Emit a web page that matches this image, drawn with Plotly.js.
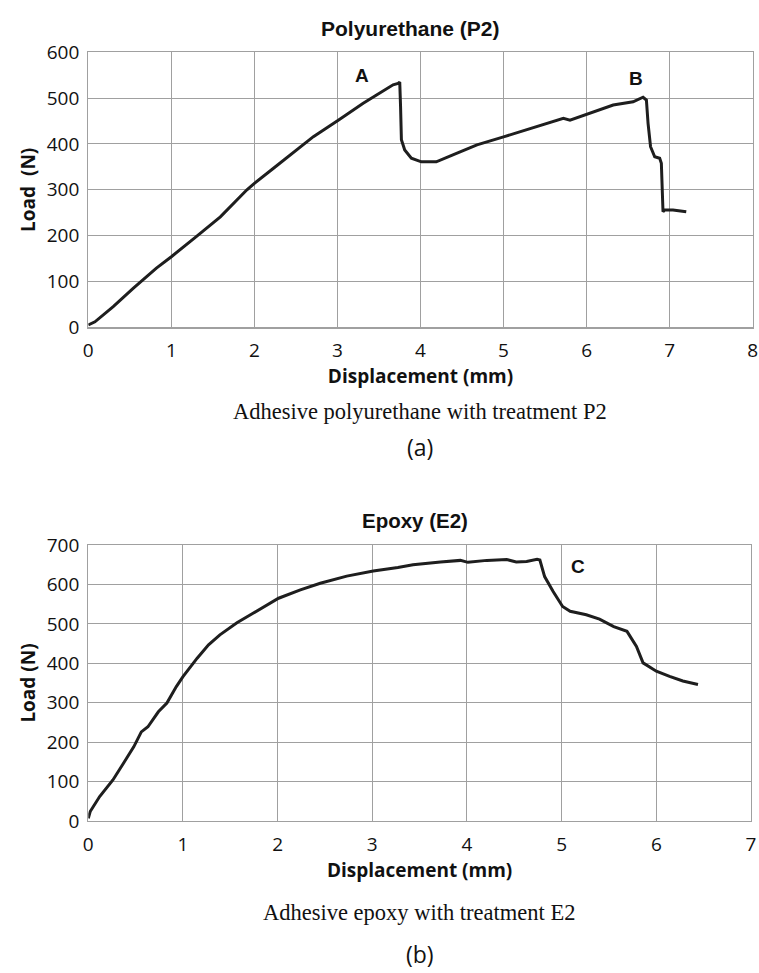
<!DOCTYPE html>
<html>
<head>
<meta charset="utf-8">
<script src="https://cdn.plot.ly/plotly-3.0.1.min.js"></script>
<style>html,body{margin:0;padding:0;background:#fff;}#chart{width:759px;height:973px;}</style>
</head>
<body>
<div id="chart"></div>
<script>
// ---- Data: Polyurethane (P2) ----
const p2Disp = [0, 0.08, 0.3, 0.54, 0.82, 1.0, 1.3, 1.59, 1.91, 2.0, 2.23, 2.51, 2.71, 3.01, 3.31, 3.51, 3.67, 3.73, 3.75,
  3.76, 3.77, 3.81, 3.89, 4.01, 4.19, 4.39, 4.68, 5.01, 5.32, 5.72, 5.80, 6.0, 6.32, 6.56, 6.68,
  6.72, 6.74, 6.77, 6.82, 6.88, 6.90, 6.92, 6.94, 7.04, 7.20];
const p2Load = [5, 12, 45, 85, 129, 154, 198, 241, 300, 314, 347, 387, 416, 452, 489, 511, 529, 532, 535,
  481, 409, 387, 369, 361, 361, 376, 398, 416, 434, 456, 452, 465, 485, 492, 502,
  496, 445, 394, 372, 369, 358, 252, 256, 256, 252];
// ---- Data: Epoxy (E2) ----
const e2Disp = [0, 0.02, 0.12, 0.26, 0.37, 0.48, 0.56, 0.63, 0.74, 0.83, 0.93, 1.0, 1.15, 1.27, 1.39, 1.57, 1.74, 2.01, 2.24, 2.45, 2.73, 3.01,
  3.27, 3.43, 3.72, 3.93, 4.01, 4.21, 4.42, 4.52, 4.63, 4.74, 4.77, 4.82, 4.91, 5.01, 5.09, 5.26, 5.40, 5.55, 5.69, 5.79, 5.86, 6.0, 6.14, 6.28, 6.44];
const e2Load = [7, 24, 62, 104, 146, 188, 226, 239, 277, 299, 341, 366, 413, 447, 472, 503, 527, 565, 586, 603, 621, 634,
  643, 650, 657, 661, 656, 661, 663, 657, 658, 664, 662, 620, 582, 544, 532, 523, 512, 493, 481, 443, 401, 380, 367, 355, 346];
// ---- Labels ----
const p2Marks = [{t: 'A', x: 3.29, y: 550}, {t: 'B', x: 6.6, y: 543}];
const e2Marks = [{t: 'C', x: 5.17, y: 645}];
const p2XTicks = [0, 1, 2, 3, 4, 5, 6, 7, 8];
const p2YTicks = [0, 100, 200, 300, 400, 500, 600];
const e2XTicks = [0, 1, 2, 3, 4, 5, 6, 7];
const e2YTicks = [0, 100, 200, 300, 400, 500, 600, 700];
const texts = {
  t1: 'Polyurethane (P2)', t2: 'Epoxy (E2)',
  c1: 'Adhesive polyurethane with treatment P2', c2: 'Adhesive epoxy with treatment E2',
  a: '(a)', b: '(b)', xt: 'Displacement (mm)', yt1: 'Load  (N)', yt2: 'Load (N)'
};

const W = 759, H = 973;
const px = v => v / W;
const py = v => 1 - v / H;

const tickFont = {family: 'Open Sans, sans-serif', size: 19, color: '#111'};
const titleFont = {family: 'Open Sans, sans-serif', size: 19, color: '#111', weight: 'bold'};
const gridC = '#a0a0a0';

function axisX(range, ticks, domain, anchor) {
  return {domain: domain, anchor: anchor, range: range, tickvals: ticks, ticktext: ticks.map(String),
    showgrid: true, gridcolor: gridC, gridwidth: 1, zeroline: false,
    showline: true, linecolor: gridC, linewidth: 1.2, mirror: true,
    ticks: '', tickfont: tickFont, ticklabelstandoff: 6,
    title: {text: texts.xt, font: titleFont, standoff: 6}, automargin: false, fixedrange: true};
}
function axisY(range, ticks, domain, anchor, title) {
  return {domain: domain, anchor: anchor, range: range, tickvals: ticks, ticktext: ticks.map(String),
    showgrid: true, gridcolor: gridC, gridwidth: 1, zeroline: false,
    showline: true, linecolor: gridC, linewidth: 1.2, mirror: true,
    ticks: '', tickfont: tickFont, ticklabelstandoff: 4,
    title: {text: title, font: titleFont, standoff: 6}, automargin: false, fixedrange: true};
}

const data = [
  {x: p2Disp, y: p2Load, xaxis: 'x', yaxis: 'y', mode: 'lines', line: {color: '#1e1e1e', width: 3}, hoverinfo: 'skip'},
  {x: e2Disp, y: e2Load, xaxis: 'x2', yaxis: 'y2', mode: 'lines', line: {color: '#1e1e1e', width: 3}, hoverinfo: 'skip'}
];

const ann = [];
const plotTitleFont1 = {family: 'Liberation Sans, Arial, sans-serif', size: 21, color: '#111', weight: 'bold'};
const plotTitleFont2 = {family: 'Liberation Sans, Arial, sans-serif', size: 20.5, color: '#111', weight: 'bold'};
ann.push({text: texts.t1, xref: 'paper', yref: 'paper', x: px(410), y: py(29), showarrow: false, font: plotTitleFont1, xanchor: 'center', yanchor: 'middle'});
ann.push({text: texts.t2, xref: 'paper', yref: 'paper', x: px(415), y: py(520), showarrow: false, font: plotTitleFont2, xanchor: 'center', yanchor: 'middle'});
const capFont = {family: 'Liberation Serif, Times New Roman, serif', size: 22.5, color: '#111'};
ann.push({text: texts.c1, xref: 'paper', yref: 'paper', x: px(420), y: py(411), showarrow: false, font: capFont, xanchor: 'center', yanchor: 'middle'});
ann.push({text: texts.c2, xref: 'paper', yref: 'paper', x: px(419), y: py(912), showarrow: false, font: capFont, xanchor: 'center', yanchor: 'middle'});
const subFont = {family: 'Open Sans, sans-serif', size: 23, color: '#111'};
ann.push({text: texts.a, xref: 'paper', yref: 'paper', x: px(420), y: py(447), showarrow: false, font: subFont, xanchor: 'center', yanchor: 'middle'});
ann.push({text: texts.b, xref: 'paper', yref: 'paper', x: px(420), y: py(954), showarrow: false, font: subFont, xanchor: 'center', yanchor: 'middle'});
const markFont = {family: 'Liberation Sans, Arial, sans-serif', size: 19, color: '#111', weight: 'bold'};
p2Marks.forEach(m => ann.push({text: m.t, xref: 'x', yref: 'y', x: m.x, y: m.y, showarrow: false, font: markFont}));
e2Marks.forEach(m => ann.push({text: m.t, xref: 'x2', yref: 'y2', x: m.x, y: m.y, showarrow: false, font: markFont}));

const layout = {
  width: W, height: H, autosize: false,
  margin: {l: 0, r: 0, t: 0, b: 0, pad: 0},
  paper_bgcolor: '#fff', plot_bgcolor: '#fff', showlegend: false,
  xaxis: axisX([0, 8], p2XTicks, [px(88.3), px(752.7)], 'y'),
  yaxis: axisY([0, 600], p2YTicks, [py(327.3), py(52.3)], 'x', texts.yt1),
  xaxis2: axisX([0, 7], e2XTicks, [px(88.3), px(751)], 'y2'),
  yaxis2: axisY([0, 700], e2YTicks, [py(821), py(545)], 'x2', texts.yt2),
  annotations: ann
};

Plotly.newPlot('chart', data, layout, {staticPlot: true, displayModeBar: false});
</script>
</body>
</html>
